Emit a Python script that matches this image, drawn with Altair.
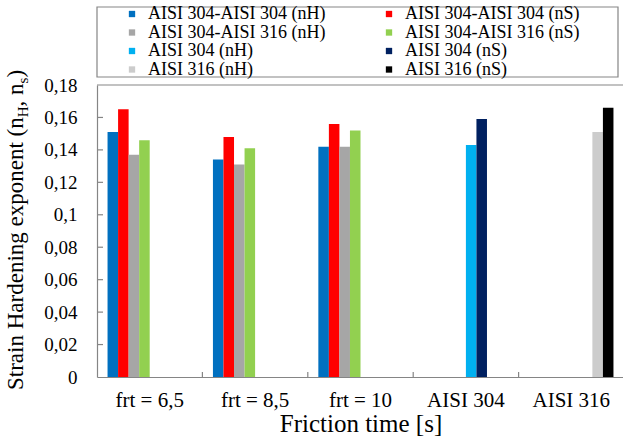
import altair as alt
import pandas as pd

# Categories along the x axis
categories = ["frt = 6,5", "frt = 8,5", "frt = 10", "AISI 304", "AISI 316"]

# Series (legend order, row by row)
series = [
    "AISI 304-AISI 304 (nH)", "AISI 304-AISI 304 (nS)",
    "AISI 304-AISI 316 (nH)", "AISI 304-AISI 316 (nS)",
    "AISI 304 (nH)", "AISI 304 (nS)",
    "AISI 316 (nH)", "AISI 316 (nS)",
]
colors = ["#0070C0", "#FF0000", "#A6A6A6", "#92D050",
          "#00B0F0", "#002060", "#CCCCCC", "#000000"]

# Strain hardening exponents per series, one value per category (None = no bar)
s_304_304_nH = [0.151, 0.134, 0.142, None, None]
s_304_304_nS = [0.165, 0.148, 0.156, None, None]
s_304_316_nH = [0.137, 0.131, 0.142, None, None]
s_304_316_nS = [0.146, 0.141, 0.152, None, None]
s_304_nH = [None, None, None, 0.143, None]
s_304_nS = [None, None, None, 0.159, None]
s_316_nH = [None, None, None, None, 0.151]
s_316_nS = [None, None, None, None, 0.166]

y_ticks = [0, 0.02, 0.04, 0.06, 0.08, 0.1, 0.12, 0.14, 0.16, 0.18]

all_values = [s_304_304_nH, s_304_304_nS, s_304_316_nH, s_304_316_nS,
              s_304_nH, s_304_nS, s_316_nH, s_316_nS]
rows = []
for name, vals in zip(series, all_values):
    for cat, v in zip(categories, vals):
        if v is not None:
            rows.append({"category": cat, "series": name, "value": v})
df = pd.DataFrame(rows)

W, H = 526, 292
SERIF = "Liberation Serif"
FRAME = "#858585"

x_scale = alt.Scale(domain=categories, range=[0, 527], paddingInner=0, paddingOuter=0)
y_scale = alt.Scale(domain=[0, 0.18], nice=False, zero=True)

# Shared axis definitions so every layer merges into the same axes
x_axis = alt.Axis(title="Friction time [s]", ticks=False, tickSize=0,
                  domain=True, domainColor=FRAME, domainWidth=1.2,
                  labelFont=SERIF, labelFontSize=21, labelColor="black",
                  labelPadding=12, labelAngle=0,
                  titleFont=SERIF, titleFontSize=25, titleFontWeight="normal",
                  titleColor="black", titlePadding=1, grid=False)
y_axis = alt.Axis(title=None, values=y_ticks, ticks=False, tickSize=0,
                  domain=True, domainColor=FRAME, domainWidth=1.2,
                  labelFont=SERIF, labelFontSize=19, labelColor="black",
                  labelPadding=20, labelOverlap=False,
                  labelExpr="replace(format(datum.value, '.2~f'), '.', ',')",
                  grid=False)

bars = alt.Chart(df).mark_bar().encode(
    x=alt.X("category:N", sort=categories, scale=x_scale, axis=x_axis),
    xOffset=alt.XOffset("series:N", sort=series,
                        scale=alt.Scale(domain=series, paddingInner=0, paddingOuter=1)),
    y=alt.Y("value:Q", scale=y_scale, axis=y_axis),
    color=alt.Color("series:N", scale=alt.Scale(domain=series, range=colors),
                    legend=alt.Legend(title=None, orient="none", legendX=26, legendY=-80,
                                      direction="horizontal",
                                      columns=2, columnPadding=54, rowPadding=0.5,
                                      symbolType="square", symbolSize=40,
                                      symbolStrokeWidth=0, labelOffset=7,
                                      labelFont=SERIF, labelFontSize=18,
                                      labelColor="black", labelLimit=400, padding=0)),
)

# Inward tick marks on the value axis
ytick_df = pd.DataFrame({"v": y_ticks[1:-1]})
yticks = alt.Chart(ytick_df).mark_rule(color=FRAME, strokeWidth=1.2).encode(
    y=alt.Y("v:Q", scale=y_scale, axis=y_axis), x=alt.value(0), x2=alt.value(6))

# Inward tick marks between the category groups
xtick_df = pd.DataFrame({"category": categories[1:]})
xticks = alt.Chart(xtick_df).mark_rule(color=FRAME, strokeWidth=1.2).encode(
    x=alt.X("category:N", sort=categories, scale=x_scale, bandPosition=0, axis=x_axis),
    y=alt.value(H - 5), y2=alt.value(H))

one = pd.DataFrame({"k": [0]})
# Top edge of the plot frame
top_edge = alt.Chart(one).mark_rule(color=FRAME, strokeWidth=1.2).encode(
    x=alt.value(0), x2=alt.value(W), y=alt.value(0))

# Box around the legend
legend_box = alt.Chart(one).mark_rect(fill="white", fillOpacity=0, stroke=FRAME,
                                      strokeWidth=1.2).encode(
    x=alt.value(0), x2=alt.value(521), y=alt.value(-78), y2=alt.value(-8))

# Vertical axis title with subscripted H and s
def title_piece(text, y, x, size):
    return alt.Chart(one).mark_text(
        text=text, angle=270, align="left", baseline="alphabetic",
        font=SERIF, fontSize=size, color="black").encode(
        x=alt.value(x), y=alt.value(y))

ytitle = (
    title_piece("Strain Hardening exponent (n", 305, -74, 23)
    + title_piece("H", 32.2, -69.5, 15)
    + title_piece(", n", 21.4, -74, 23)
    + title_piece("s", -1.6, -69.5, 15)
    + title_piece(")", -7.4, -74, 23)
)

chart = alt.layer(legend_box, bars, yticks, xticks, top_edge, ytitle).properties(
    width=W, height=H,
    padding={"left": 97, "top": 85, "right": 0, "bottom": 60},
    autosize=alt.AutoSizeParams(type="none"),
    background="white",
).configure_view(strokeWidth=0)

chart.save("out.html", embed_options={"renderer": "svg", "actions": False})
